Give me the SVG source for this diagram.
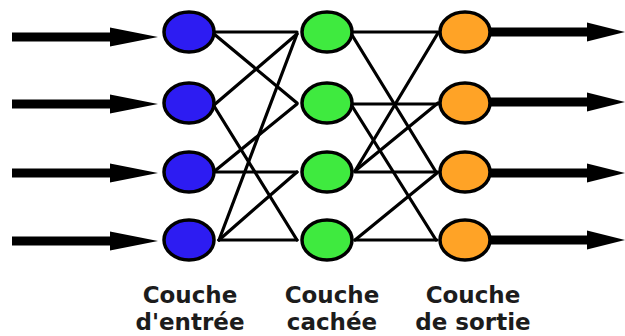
<svg xmlns="http://www.w3.org/2000/svg" width="625" height="336" viewBox="0 0 625 336">
<style>
.l{stroke:#000;stroke-width:3.2;fill:none;stroke-linecap:round}
.a{stroke:#000;stroke-width:9;fill:none}
.n{stroke:#000;stroke-width:3.5}
.in{fill:#2d1cf2}
.hid{fill:#3fea3f}
.out{fill:#ffa326}
.t{font-family:"DejaVu Sans","Open Sans",sans-serif;font-weight:bold;font-size:23px;fill:#1c1c1c;text-anchor:middle}
</style>
<defs>
<polygon id="ah" points="0,-9.5 48,0 0,9.5" fill="#000"/>
</defs>
<rect width="625" height="336" fill="#fff"/>
<g id="connectors">
<line class="a" x1="12" y1="37" x2="115" y2="37"/><use href="#ah" x="110" y="37"/>
<line class="a" x1="12" y1="104" x2="115" y2="104"/><use href="#ah" x="110" y="104"/>
<line class="a" x1="12" y1="173" x2="115" y2="173"/><use href="#ah" x="110" y="173"/>
<line class="a" x1="12" y1="241" x2="115" y2="241"/><use href="#ah" x="110" y="241"/>
<line class="a" x1="488" y1="32" x2="590" y2="32"/><use href="#ah" transform="translate(587,32) scale(0.8,1)"/>
<line class="a" x1="488" y1="102" x2="590" y2="102"/><use href="#ah" transform="translate(587,102) scale(0.8,1)"/>
<line class="a" x1="488" y1="173" x2="590" y2="173"/><use href="#ah" transform="translate(587,173) scale(0.8,1)"/>
<line class="a" x1="488" y1="240" x2="590" y2="240"/><use href="#ah" transform="translate(587,240) scale(0.8,1)"/>
<line class="l" x1="214" y1="32" x2="297" y2="32"/>
<line class="l" x1="214" y1="34" x2="297" y2="103"/>
<line class="l" x1="214" y1="105" x2="297" y2="34"/>
<line class="l" x1="214" y1="106" x2="297" y2="240"/>
<line class="l" x1="216" y1="170" x2="297" y2="104"/>
<line class="l" x1="216" y1="172" x2="297" y2="172"/>
<line class="l" x1="219" y1="240" x2="297" y2="34"/>
<line class="l" x1="219" y1="240" x2="297" y2="172"/>
<line class="l" x1="219" y1="240" x2="297" y2="240"/>
<line class="l" x1="352" y1="32" x2="438" y2="32"/>
<line class="l" x1="352" y1="35" x2="436" y2="172"/>
<line class="l" x1="352" y1="104" x2="438" y2="104"/>
<line class="l" x1="352" y1="106" x2="436" y2="240"/>
<line class="l" x1="355" y1="171" x2="438" y2="33"/>
<line class="l" x1="355" y1="171" x2="438" y2="103"/>
<line class="l" x1="355" y1="172" x2="438" y2="172"/>
<line class="l" x1="355" y1="240" x2="437" y2="173"/>
<line class="l" x1="355" y1="240" x2="437" y2="240"/>
</g>
<g id="in1"><ellipse class="n in" cx="189" cy="32" rx="25" ry="20"/></g>
<g id="in2"><ellipse class="n in" cx="189" cy="103" rx="25" ry="20"/></g>
<g id="in3"><ellipse class="n in" cx="189" cy="172" rx="25" ry="20"/></g>
<g id="in4"><ellipse class="n in" cx="189" cy="240" rx="25" ry="20"/></g>
<g id="hid1"><ellipse class="n hid" cx="327" cy="32" rx="25" ry="20"/></g>
<g id="hid2"><ellipse class="n hid" cx="327" cy="103" rx="25" ry="20"/></g>
<g id="hid3"><ellipse class="n hid" cx="327" cy="172" rx="25" ry="20"/></g>
<g id="hid4"><ellipse class="n hid" cx="327" cy="240" rx="25" ry="20"/></g>
<g id="out1"><ellipse class="n out" cx="465" cy="32" rx="25" ry="20"/></g>
<g id="out2"><ellipse class="n out" cx="465" cy="103" rx="25" ry="20"/></g>
<g id="out3"><ellipse class="n out" cx="465" cy="172" rx="25" ry="20"/></g>
<g id="out4"><ellipse class="n out" cx="465" cy="240" rx="25" ry="20"/></g>
<g id="labels">
<text class="t" x="190" y="303">Couche</text>
<text class="t" x="190" y="330">d'entrée</text>
<text class="t" x="332" y="303">Couche</text>
<text class="t" x="332" y="330">cachée</text>
<text class="t" x="473" y="303">Couche</text>
<text class="t" x="473" y="330">de sortie</text>
</g>
</svg>
